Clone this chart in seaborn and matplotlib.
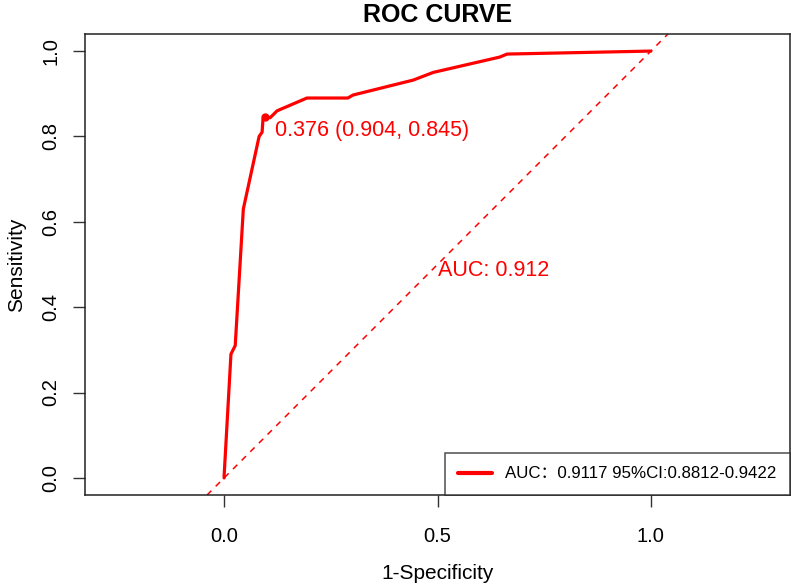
import numpy as np
import pandas as pd
import seaborn as sns
import matplotlib.pyplot as plt

# ROC points (1-specificity, sensitivity)
fpr = [0.0, 0.0, 0.016, 0.026, 0.045, 0.082, 0.089, 0.091, 0.096, 0.108,
       0.124, 0.194, 0.29, 0.302, 0.443, 0.49, 0.646, 0.663, 1.0]
tpr = [0.0, 0.005, 0.29, 0.31, 0.63, 0.80, 0.81, 0.84, 0.845, 0.844,
       0.86, 0.89, 0.89, 0.897, 0.932, 0.95, 0.986, 0.993, 1.0]
best_fpr, best_tpr = 0.096, 0.845
thres_label = "0.376 (0.904, 0.845)"
auc_label = "AUC: 0.912"
legend_label = "AUC\uff1a0.9117 95%CI:0.8812-0.9422"
xticks = [0.0, 0.5, 1.0]
yticks = [0.0, 0.2, 0.4, 0.6, 0.8, 1.0]

sns.set_style("ticks")
plt.rcParams['font.family'] = ['Liberation Sans', 'Noto Sans CJK SC', 'DejaVu Sans']
plt.rcParams['text.color'] = 'black'
plt.rcParams['axes.labelcolor'] = 'black'
plt.rcParams['xtick.color'] = 'black'
plt.rcParams['ytick.color'] = 'black'

df = pd.DataFrame({"fpr": fpr, "tpr": tpr})

fig = plt.figure(figsize=(7.91, 5.85), dpi=100)
ax = fig.add_axes([85 / 791, 1 - 495 / 585, 705 / 791, 461 / 585])

# diagonal reference line
ax.axline((0, 0), (1, 1), color="red", lw=1.1, ls=(0, (4, 4)))

sns.lineplot(data=df, x="fpr", y="tpr", sort=False, estimator=None,
             color="red", lw=2.3, ax=ax, label=legend_label)
ax.plot(best_fpr, best_tpr, "o", color="red", ms=5)

ax.text(0.12, 0.815, thres_label, color="red", fontsize=15.5, ha="left", va="center")
ax.text(0.5, 0.485, auc_label, color="red", fontsize=15.5, ha="left", va="center")

ax.set_xlim(-0.326, 1.326)
ax.set_ylim(-0.04, 1.04)
ax.set_xticks(xticks)
ax.set_xticklabels(["%.1f" % v for v in xticks])
ax.set_yticks(yticks)
ax.set_yticklabels(["%.1f" % v for v in yticks], rotation=90, va="center")
ax.tick_params(axis="both", direction="out", length=8.6, width=1, color="#333333",
               labelsize=14.5)
ax.tick_params(axis="x", pad=14.5)
ax.tick_params(axis="y", pad=9)
for s in ax.spines.values():
    s.set_visible(True)
    s.set_color("#222222")
    s.set_linewidth(1.1)

ax.set_xlabel("1-Specificity", fontsize=15, labelpad=13)
ax.set_ylabel("Sensitivity", fontsize=15, labelpad=11)
ax.set_title("ROC CURVE", fontsize=18, fontweight="bold", pad=9)

leg = ax.legend(loc="lower right", fontsize=12.2, frameon=True, fancybox=False,
                borderaxespad=0, handlelength=1.95, handletextpad=0.8,
                borderpad=0.8, edgecolor="#222222")
leg.get_frame().set_linewidth(1.1)
for line in leg.get_lines():
    line.set_linewidth(3)

fig.savefig("out.png", dpi=100)
